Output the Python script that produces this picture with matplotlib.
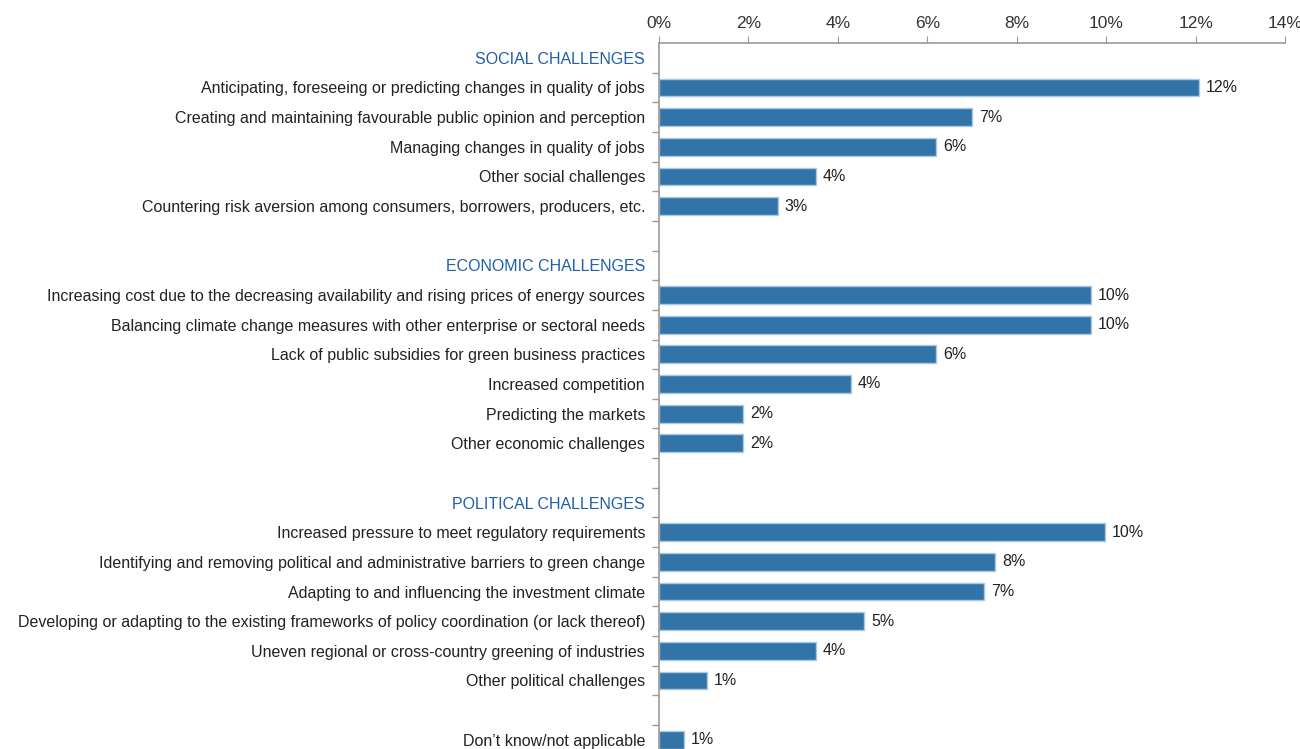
import matplotlib
matplotlib.use("Agg")
import matplotlib.pyplot as plt
from matplotlib.ticker import FixedLocator, PercentFormatter

plt.rcParams['font.family'] = ['Liberation Sans', 'DejaVu Sans']

groups = ["SOCIAL CHALLENGES", "ECONOMIC CHALLENGES", "POLITICAL CHALLENGES", None]
social_items = [
    "Anticipating, foreseeing or predicting changes in quality of jobs",
    "Creating and maintaining favourable public opinion and perception",
    "Managing changes in quality of jobs",
    "Other social challenges",
    "Countering risk aversion among consumers, borrowers, producers, etc.",
]
social_values = [12.08, 7.0, 6.2, 3.5, 2.66]
social_labels = ["12%", "7%", "6%", "4%", "3%"]

economic_items = [
    "Increasing cost due to the decreasing availability and rising prices of energy sources",
    "Balancing climate change measures with other enterprise or sectoral needs",
    "Lack of public subsidies for green business practices",
    "Increased competition",
    "Predicting the markets",
    "Other economic challenges",
]
economic_values = [9.66, 9.66, 6.2, 4.3, 1.88, 1.88]
economic_labels = ["10%", "10%", "6%", "4%", "2%", "2%"]

political_items = [
    "Increased pressure to meet regulatory requirements",
    "Identifying and removing political and administrative barriers to green change",
    "Adapting to and influencing the investment climate",
    "Developing or adapting to the existing frameworks of policy coordination (or lack thereof)",
    "Uneven regional or cross-country greening of industries",
    "Other political challenges",
]
political_values = [9.98, 7.52, 7.27, 4.59, 3.5, 1.07]
political_labels = ["10%", "8%", "7%", "5%", "4%", "1%"]

other_items = ["Don\u2019t know/not applicable"]
other_values = [0.56]
other_labels = ["1%"]

x_ticks = [0, 2, 4, 6, 8, 10, 12, 14]

blocks = [
    (groups[0], social_items, social_values, social_labels),
    (groups[1], economic_items, economic_values, economic_labels),
    (groups[2], political_items, political_values, political_labels),
    (groups[3], other_items, other_values, other_labels),
]

# Build rows
row_text, row_val, row_lab, row_header = [], [], [], []
for bi, (g, items, vals, labs) in enumerate(blocks):
    if bi > 0:
        row_text.append(""); row_val.append(None); row_lab.append(None); row_header.append(False)
    if g is not None:
        row_text.append(g); row_val.append(None); row_lab.append(None); row_header.append(True)
    for it, v, l in zip(items, vals, labs):
        row_text.append(it); row_val.append(v); row_lab.append(l); row_header.append(False)

n = len(row_text)
fig = plt.figure(figsize=(13, 7.49), dpi=100)
row_px = 29.65
top_px = 43
bottom_px = top_px + n * row_px
ax = fig.add_axes([659 / 1300, 1 - bottom_px / 749, (1285 - 659) / 1300, (bottom_px - top_px) / 749])

bar_color = "#3274a8"
edge_color = "#a9c9e2"
for i, (v, l) in enumerate(zip(row_val, row_lab)):
    if v is None:
        continue
    ax.barh(i, v, height=0.6, color=bar_color, edgecolor=edge_color, linewidth=1.0)
    ax.text(v + 0.15, i, l, va="center", ha="left", fontsize=11.5, color="#222222")

ax.set_ylim(n - 0.5, -0.5)
ax.set_xlim(0, 14)
ax.xaxis.set_ticks_position("top")
ax.set_xticks(x_ticks)
ax.xaxis.set_major_formatter(PercentFormatter(decimals=0))
ax.tick_params(axis="x", which="major", length=5, color="#999999", labelsize=12.5,
               labelcolor="#333333", pad=4, direction="out")

ax.set_yticks(range(n))
ax.set_yticklabels(row_text)
ax.yaxis.set_minor_locator(FixedLocator([i + 0.5 for i in range(n - 1)]))
ax.tick_params(axis="y", which="major", length=0, pad=10, labelsize=11.5, labelcolor="#222222")
ax.tick_params(axis="y", which="minor", length=5, color="#999999", width=1)
for tl, h in zip(ax.get_yticklabels(), row_header):
    if h:
        tl.set_color("#1f5fa8")

for s in ["right", "bottom"]:
    ax.spines[s].set_visible(False)
for s in ["top", "left"]:
    ax.spines[s].set_color("#999999")
    ax.spines[s].set_linewidth(1.2)

fig.savefig("out.png", dpi=100)
